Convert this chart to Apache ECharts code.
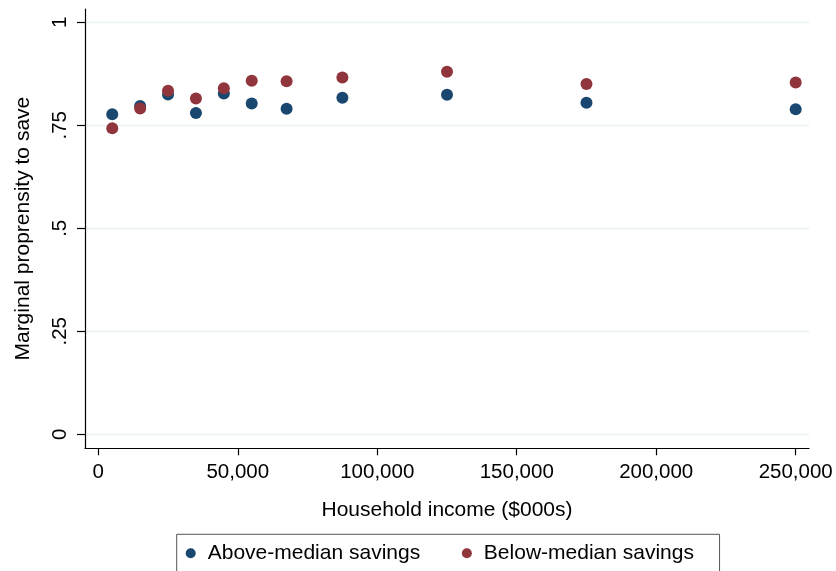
<!DOCTYPE html>
<html>
<head>
<meta charset="utf-8">
<title>Marginal propensity to save by household income</title>
<script src="https://cdn.jsdelivr.net/npm/echarts@6/dist/echarts.min.js"></script>
<style>
  html, body { margin: 0; padding: 0; background: #ffffff; }
  #chart { width: 836px; height: 571px; }
</style>
</head>
<body>
<div id="chart"></div>
<script>
// Household income bins (midpoints, dollars)
const incomeBins = [5000, 15000, 25000, 35000, 45000, 55000, 67500, 87500, 125000, 175000, 250000];

// Marginal propensity to save, by savings group
const aboveMedian = [0.777, 0.797, 0.825, 0.780, 0.827, 0.803, 0.790, 0.817, 0.824, 0.805, 0.789];
const belowMedian = [0.743, 0.791, 0.834, 0.815, 0.840, 0.858, 0.857, 0.866, 0.880, 0.850, 0.854];

const seriesNames = ['Above-median savings', 'Below-median savings'];

// Axis tick values and their labels
const xTickValues = [0, 50000, 100000, 150000, 200000, 250000];
const xTickLabels = ['0', '50,000', '100,000', '150,000', '200,000', '250,000'];
const yTickValues = [0, 0.25, 0.5, 0.75, 1];
const yTickLabels = ['0', '.25', '.5', '.75', '1'];

const FONT = '"Liberation Sans", Arial, Helvetica, sans-serif';
const NAVY = '#1a476f';
const MAROON = '#90353b';

const pairs = (xs, ys) => xs.map((x, i) => [x, ys[i]]);

const chart = echarts.init(document.getElementById('chart'), null, { renderer: 'canvas' });

chart.setOption({
  backgroundColor: '#ffffff',
  animation: false,
  textStyle: { fontFamily: FONT, color: '#000' },
  grid: { left: 85, right: 27, top: 9, bottom: 122.7, containLabel: false },
  xAxis: {
    type: 'value',
    min: -4770,
    max: 254770,
    name: 'Household income ($000s)',
    nameLocation: 'middle',
    nameGap: 51,
    nameTextStyle: { fontFamily: FONT, fontSize: 21, color: '#000' },
    axisLine: { show: true, onZero: false, lineStyle: { color: '#000', width: 1.2 } },
    axisTick: { show: true, length: 7, customValues: xTickValues, lineStyle: { color: '#000', width: 1.2 } },
    axisLabel: {
      customValues: xTickValues,
      margin: 14,
      fontFamily: FONT,
      fontSize: 20.5,
      color: '#000',
      formatter: v => xTickLabels[xTickValues.indexOf(v)]
    },
    splitLine: { show: false }
  },
  yAxis: {
    type: 'value',
    min: -0.034,
    max: 1.0323,
    name: 'Marginal proprensity to save',
    nameLocation: 'middle',
    nameGap: 51,
    nameRotate: 90,
    nameTextStyle: { fontFamily: FONT, fontSize: 21, color: '#000' },
    axisLine: { show: true, onZero: false, lineStyle: { color: '#000', width: 1.2 } },
    axisTick: { show: true, length: 8, customValues: yTickValues, lineStyle: { color: '#000', width: 1.2 } },
    axisLabel: {
      customValues: yTickValues,
      rotate: 90,
      margin: 14,
      fontFamily: FONT,
      fontSize: 20.5,
      color: '#000',
      formatter: v => yTickLabels[yTickValues.indexOf(v)]
    },
    splitLine: { show: true, lineStyle: { color: '#eaf2f3', width: 1.3 } }
  },
  legend: {
    left: 176.7,
    top: 534.3,
    orient: 'horizontal',
    selectedMode: false,
    icon: 'circle',
    itemWidth: 24,
    itemHeight: 10,
    itemGap: 41.7,
    padding: [8.5, 25.6, 12, 9],
    borderColor: '#555',
    borderWidth: 1,
    backgroundColor: '#ffffff',
    textStyle: { fontFamily: FONT, fontSize: 21, color: '#000' },
    data: seriesNames
  },
  series: [
    {
      name: seriesNames[0],
      type: 'scatter',
      symbol: 'circle',
      symbolSize: 12,
      itemStyle: { color: NAVY, opacity: 1 },
      data: pairs(incomeBins, aboveMedian),
      z: 2
    },
    {
      name: seriesNames[1],
      type: 'scatter',
      symbol: 'circle',
      symbolSize: 12,
      itemStyle: { color: MAROON, opacity: 1 },
      data: pairs(incomeBins, belowMedian),
      z: 3
    }
  ]
});
</script>
</body>
</html>
